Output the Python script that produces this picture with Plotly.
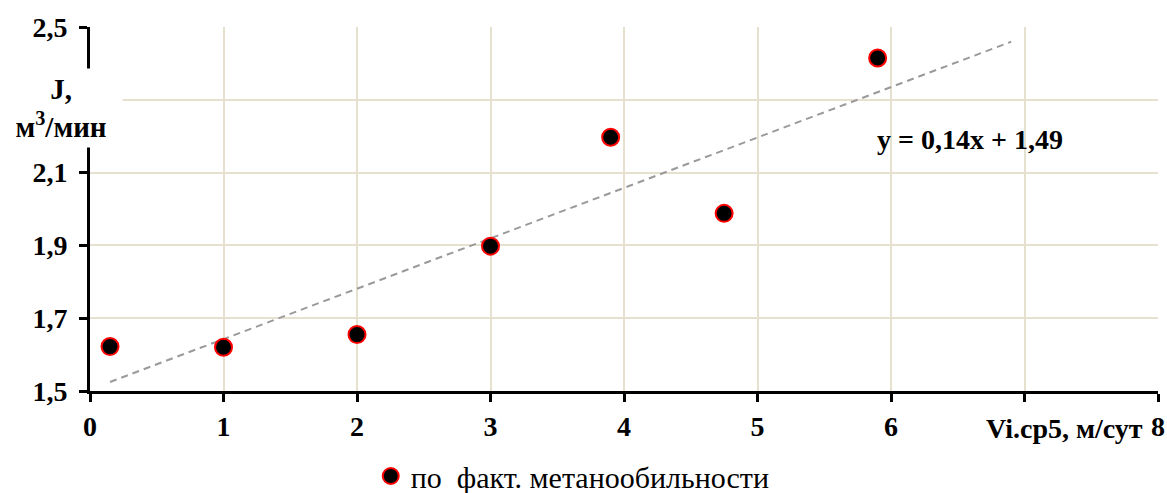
import numpy as np
import plotly.graph_objects as go

# data
x_vals = [0.15, 1.0, 2.0, 3.0, 3.9, 4.75, 5.9]
y_vals = [1.622, 1.620, 1.655, 1.898, 2.197, 1.988, 2.415]
series_name = "по\u00a0 факт. метанообильности"
equation_text = "y = 0,14x + 1,49"
x_ticks = [0, 1, 2, 3, 4, 5, 6, 7, 8]
y_ticks = [1.5, 1.7, 1.9, 2.1, 2.3, 2.5]
forward = 1.0

FONT = "Liberation Serif"

# linear trend (least squares), extended forward
slope, intercept = np.polyfit(x_vals, y_vals, 1)
tx = np.array([min(x_vals), max(x_vals) + forward])
ty = slope * tx + intercept

fig = go.Figure()
fig.add_trace(go.Scatter(
    x=tx, y=ty, mode="lines", showlegend=False, hoverinfo="skip",
    line=dict(color="#9a9a9a", width=2, dash="7px,5px"),
))
fig.add_trace(go.Scatter(
    x=x_vals, y=y_vals, mode="markers", name=series_name,
    marker=dict(color="black", size=17, line=dict(color="red", width=2)),
))

axis_common = dict(
    showline=True, linecolor="black", linewidth=3,
    ticks="outside", ticklen=8, tickwidth=3, tickcolor="black",
    showgrid=True, gridcolor="#e6e1cf", gridwidth=2,
    zeroline=False,
    tickfont=dict(family=FONT, size=28, color="black", weight="bold"),
)

fig.update_xaxes(range=[0, 8], tickvals=x_ticks, ticklabelstandoff=0, **axis_common)
fig.update_yaxes(range=[1.5, 2.5], tickvals=y_ticks, tickformat=".1f",
                 ticklabelstandoff=6, **axis_common)

# equation label
fig.add_annotation(x=6.59, y=2.19, xref="x", yref="y", text=equation_text,
                   showarrow=False, xanchor="center", yanchor="middle",
                   font=dict(family=FONT, size=28, color="black", weight="bold"))

# y-axis title (white box hides part of axis)
fig.add_annotation(x=-0.0272, y=0.777, xref="paper", yref="paper",
                   text="J,<br>м<sup>3</sup>/мин", showarrow=False,
                   xanchor="center", yanchor="middle",
                   width=120, height=76, bgcolor="white", align="center",
                   font=dict(family=FONT, size=29, color="black", weight="bold"))

# x-axis title
fig.add_annotation(x=0.9125, y=-0.102, xref="paper", yref="paper",
                   text="Vi.ср5, м/сут", showarrow=False,
                   xanchor="center", yanchor="middle",
                   bgcolor="white", borderpad=0,
                   font=dict(family=FONT, size=28, color="black", weight="bold"))

fig.update_layout(
    width=1167, height=493,
    margin=dict(l=90, r=9, t=27, b=102, autoexpand=False),
    paper_bgcolor="white", plot_bgcolor="white",
    font=dict(family=FONT, color="black"),
    separators=", ",
    legend=dict(orientation="h", x=0.452, xanchor="center", y=-0.2335,
                yanchor="middle", bgcolor="rgba(0,0,0,0)",
                font=dict(family=FONT, size=30, color="black")),
)

fig.write_html("out.html", config={"displayModeBar": False},
               post_script="document.body.style.margin='0';")
